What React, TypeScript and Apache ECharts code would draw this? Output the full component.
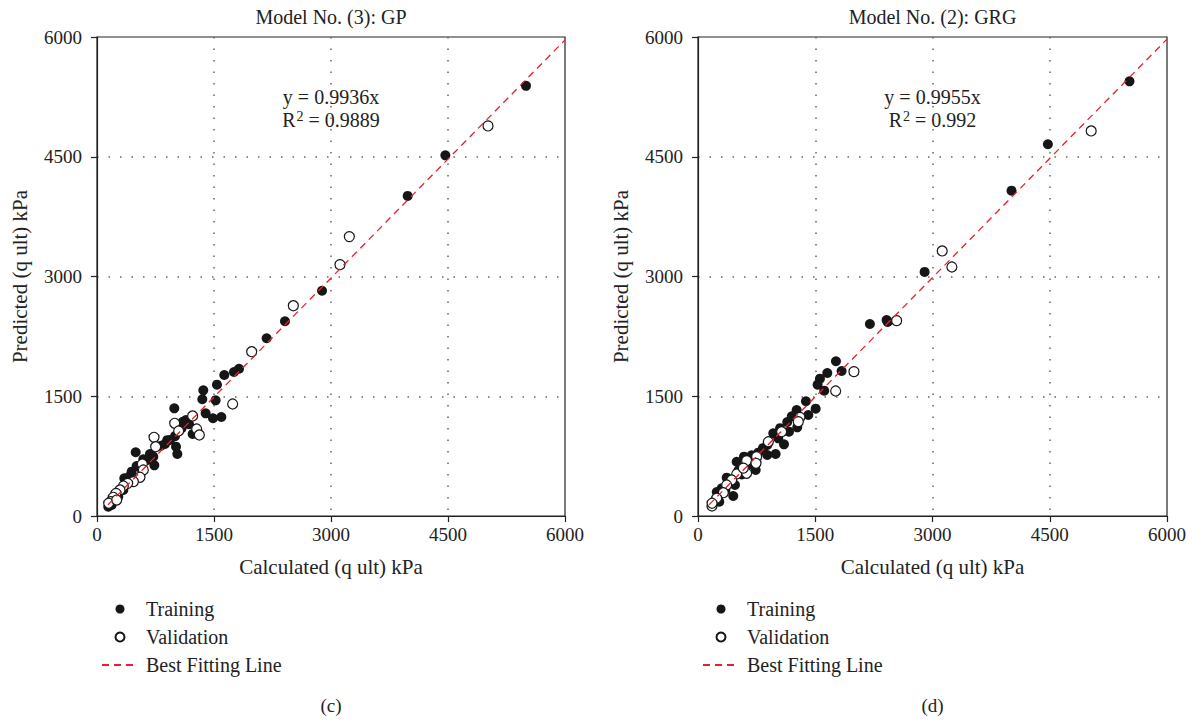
import React, { useEffect, useRef } from "react";
import * as echarts from "echarts";

const FONT = "'Liberation Serif', 'DejaVu Serif', serif";

// Model No. (3): GP  — [calculated, predicted]
const gpTraining: number[][] = [
  [5500, 5388], [4466, 4518], [3983, 4009], [2885, 2822], [2410, 2440],
  [2175, 2226], [1821, 1845], [1756, 1804], [1632, 1766], [1538, 1645],
  [1363, 1574], [1350, 1462], [1521, 1449], [991, 1349], [1393, 1286],
  [1487, 1224], [1594, 1240], [1141, 1203], [1085, 1099], [1226, 1027],
  [936, 952], [872, 902], [1013, 868], [1030, 777], [496, 798],
  [679, 777], [594, 710], [722, 743], [735, 635], [508, 626],
  [444, 555], [350, 472], [415, 493], [273, 242], [145, 117],
  [188, 138], [338, 326], [640, 700], [820, 880], [900, 950],
  [560, 600], [380, 420], [1180, 1150], [1100, 1180], [1000, 1000]
];
const gpValidation: number[][] = [
  [5013, 4886], [3235, 3500], [3115, 3148], [2517, 2634], [1983, 2058],
  [1739, 1403], [1226, 1253], [996, 1161], [1047, 1065], [1278, 1090],
  [1312, 1015], [731, 986], [752, 868], [581, 651], [594, 576],
  [551, 485], [466, 430], [393, 409], [338, 376], [295, 326],
  [244, 284], [209, 234], [175, 179], [150, 159], [252, 200]
];
const gpFit: number[][] = [[140, 139], [6000, 5962]];

// Model No. (2): GRG
const grgTraining: number[][] = [
  [5520, 5445], [4476, 4657], [4011, 4075], [2899, 3057], [2413, 2455],
  [2199, 2405], [2426, 2430], [1765, 1938], [1837, 1816], [1654, 1791],
  [1560, 1720], [1530, 1645], [1615, 1570], [1381, 1437], [1505, 1344],
  [1262, 1328], [1411, 1265], [1142, 1178], [1270, 1111], [963, 1036],
  [1164, 1056], [1027, 973], [1100, 898], [886, 890], [771, 793],
  [886, 764], [993, 777], [686, 760], [495, 680], [588, 743],
  [738, 576], [515, 568], [367, 480], [473, 388], [303, 347],
  [451, 251], [272, 179], [830, 850], [640, 640], [420, 440],
  [1200, 1250], [560, 520], [240, 300], [1050, 1100], [350, 320]
];
const grgValidation: number[][] = [
  [5030, 4823], [3124, 3320], [3248, 3119], [2541, 2447], [1995, 1808],
  [1761, 1566], [1304, 1236], [1283, 1182], [1070, 1056], [750, 743],
  [622, 693], [742, 660], [622, 535], [495, 526], [431, 451],
  [367, 388], [324, 292], [239, 222], [179, 125], [580, 600],
  [900, 930], [180, 160]
];
const grgFit: number[][] = [[140, 139], [6000, 5973]];

const titles = ["Model No. (3): GP", "Model No. (2): GRG"];
const equations = [
  ["y = 0.9936x", "0.9889"],
  ["y = 0.9955x", "0.992"]
];
const panelLabels = ["(c)", "(d)"];

const grids = [
  { left: 97, top: 37, width: 468, height: 479 },
  { left: 698, top: 37, width: 469, height: 479 }
];

export default function App() {
  const ref = useRef<HTMLDivElement>(null);
  useEffect(() => {
    if (!ref.current) return;
    const chart = echarts.init(ref.current, null, { renderer: "svg" });

    const axisCommon = (gi: number) => ({
      gridIndex: gi,
      type: "value" as const,
      min: 0,
      max: 6000,
      interval: 1500,
      axisLine: { show: true, lineStyle: { color: "#222", width: 1.2 } },
      axisTick: { show: true, length: 6, lineStyle: { color: "#222", width: 1.2 } },
      splitLine: {
        show: true,
        showMinLine: false,
        showMaxLine: false,
        lineStyle: { color: "#666", type: [1.5, 10], width: 1.5 }
      },
      nameLocation: "middle" as const,
      nameTextStyle: { fontFamily: FONT, fontSize: 21, color: "#222" }
    });

    const fmt = (v: number) => String(v);
    const xAxes = grids.map((_, i) => ({
      ...axisCommon(i),
      name: "Calculated (q ult) kPa",
      nameGap: 40,
      axisLabel: { fontFamily: FONT, fontSize: 19, color: "#222", margin: 9, formatter: fmt }
    }));
    const yAxes = grids.map((_, i) => ({
      ...axisCommon(i),
      name: "Predicted (q ult) kPa",
      nameGap: 67,
      axisLabel: { fontFamily: FONT, fontSize: 19, color: "#222", margin: 15, formatter: fmt }
    }));

    const sets = [
      [gpTraining, gpValidation, gpFit],
      [grgTraining, grgValidation, grgFit]
    ];
    const series: any[] = [];
    sets.forEach((s, i) => {
      series.push({
        name: "Training",
        type: "scatter",
        xAxisIndex: i,
        yAxisIndex: i,
        data: s[0],
        symbolSize: 10,
        itemStyle: { color: "#161616", opacity: 1 }
      });
      series.push({
        name: "Validation",
        type: "scatter",
        xAxisIndex: i,
        yAxisIndex: i,
        data: s[1],
        symbolSize: 10,
        itemStyle: { color: "#ffffff", borderColor: "#161616", borderWidth: 1.2, opacity: 1 }
      });
      series.push({
        name: "Best Fitting Line",
        type: "line",
        xAxisIndex: i,
        yAxisIndex: i,
        data: s[2],
        symbol: "none",
        z: 5,
        itemStyle: { color: "#e8202a" },
        lineStyle: { color: "#e8202a", width: 1.3, type: [7, 5] }
      });
    });

    const legends = grids.map((g) => ({
      orient: "vertical",
      left: g.left - 1,
      top: 594,
      data: [
        { name: "Training", itemStyle: { color: "#161616" } },
        { name: "Validation" },
        { name: "Best Fitting Line", itemStyle: { opacity: 0 } }
      ],
      itemWidth: 36,
      itemHeight: 9,
      itemGap: 8,
      selectedMode: false,
      textStyle: { fontFamily: FONT, fontSize: 20, color: "#222", padding: [0, 0, 0, 3] }
    }));

    const graphics: any[] = [];
    grids.forEach((g, i) => {
      const cx = g.left + g.width / 2;
      graphics.push({
        type: "text",
        x: cx,
        y: 17,
        style: {
          text: titles[i],
          fontFamily: FONT,
          fontSize: 20,
          fill: "#222",
          align: "center",
          verticalAlign: "middle"
        }
      });
      graphics.push({
        type: "text",
        x: cx,
        y: 97,
        style: {
          text: equations[i][0],
          fontFamily: FONT,
          fontSize: 20,
          fill: "#222",
          align: "center",
          verticalAlign: "middle"
        }
      });
      graphics.push({
        type: "text",
        x: cx,
        y: 120,
        style: {
          text: "{a|R}{s|2}{a| = " + equations[i][1] + "}",
          fontFamily: FONT,
          fill: "#222",
          align: "center",
          verticalAlign: "middle",
          rich: {
            a: { fontFamily: FONT, fontSize: 20, fill: "#222", lineHeight: 22 },
            s: { fontFamily: FONT, fontSize: 14, fill: "#222", padding: [0, 0, 16, 1], lineHeight: 22, verticalAlign: "top" }
          }
        }
      });
      graphics.push({
        type: "text",
        x: cx,
        y: 705,
        style: {
          text: panelLabels[i],
          fontFamily: FONT,
          fontSize: 19,
          fill: "#222",
          align: "center",
          verticalAlign: "middle"
        }
      });
    });

    chart.setOption({
      animation: false,
      backgroundColor: "#ffffff",
      grid: grids.map((g) => ({ ...g, show: true, borderColor: "#222", borderWidth: 1.2, backgroundColor: "transparent" })),
      xAxis: xAxes,
      yAxis: yAxes,
      series,
      legend: legends,
      graphic: graphics
    });
    return () => chart.dispose();
  }, []);
  return (
    <div
      ref={ref}
      style={{ position: "fixed", left: 0, top: 0, width: 1199, height: 720, background: "#fff" }}
    />
  );
}
